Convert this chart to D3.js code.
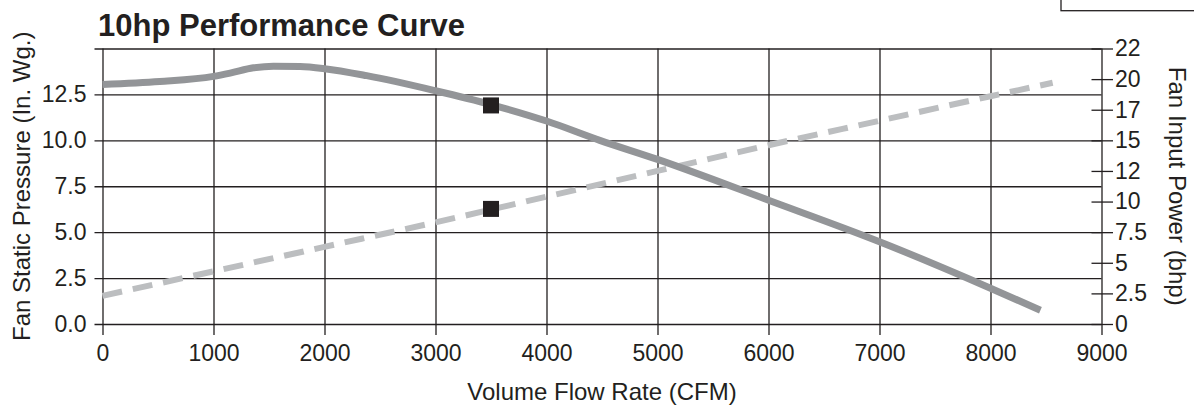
<!DOCTYPE html>
<html>
<head>
<meta charset="utf-8">
<script src="https://cdn.jsdelivr.net/npm/d3@7"></script>
<style>
  html, body { margin: 0; padding: 0; background: #fff; }
  svg { display: block; font-family: "Liberation Sans", Arial, sans-serif; }
  .tick line { stroke: #231f20; stroke-width: 1.3; }
  .tick text { fill: #231f20; font-size: 23px; }
</style>
</head>
<body>
<div id="chart"></div>
<script>
// Fan static pressure curve (CFM -> in. Wg.)
const pressureFlow  = [0, 516, 1000, 1150, 1360, 1540, 1780, 2000, 2380, 3000, 3500, 4000, 4480, 5000, 6000, 7000, 8000, 8450];
const pressureValue = [13.04, 13.2, 13.48, 13.66, 13.95, 14.04, 14.02, 13.9, 13.52, 12.7, 11.95, 11.05, 10.0, 8.96, 6.74, 4.48, 1.95, 0.75];

// Fan input power line (CFM -> bhp)
const powerFlow  = [0, 1000, 2000, 3000, 4000, 5000, 6000, 7000, 8000, 8560];
const powerValue = [2.3, 4.3, 6.3, 8.3, 10.4, 12.5, 14.6, 16.6, 18.6, 19.7];

// operating point markers
const pointFlow = 3500;
const pointPressure = 11.9;
const pointPower = 9.4;

// ticks
const xTicks = [0, 1000, 2000, 3000, 4000, 5000, 6000, 7000, 8000, 9000];
const leftTicks = [0, 2.5, 5, 7.5, 10, 12.5, 15];
const rightTicks = [0, 2.5, 5, 7.5, 10, 12.5, 15, 17.5, 20, 22.5];
const rightTickLabels = ["0", "2.5", "5", "7.5", "10", "12", "15", "17", "20", "22"];

const width = 1194, height = 407;
const plotLeft = 102.5, plotRight = 1101.5, plotTop = 48.5, plotBottom = 324;
const ink = "#231f20";

const svg = d3.select("#chart").append("svg")
    .attr("width", width)
    .attr("height", height);

const x = d3.scaleLinear().domain([0, 9000]).range([plotLeft, plotRight]);
const yL = d3.scaleLinear().domain([0, 15]).range([plotBottom, plotTop]);
const yR = d3.scaleLinear().domain([0, 22.5]).range([plotBottom, plotTop]);

// partial legend box cut off at the top right
svg.append("rect")
    .attr("x", 1061).attr("y", -10)
    .attr("width", 200).attr("height", 20.7)
    .attr("fill", "none")
    .attr("stroke", ink)
    .attr("stroke-width", 1.3);

// left axis + horizontal grid
svg.append("g")
    .attr("transform", `translate(${plotLeft - 8},0)`)
    .call(d3.axisLeft(yL)
        .tickValues(leftTicks)
        .tickSize(-(plotRight - plotLeft + 8))
        .tickPadding(8)
        .tickFormat(d => d === 15 ? "" : d3.format(".1f")(d)))
    .call(g => g.select(".domain").remove());

// bottom axis + vertical grid
svg.append("g")
    .attr("transform", `translate(0,${plotBottom + 11})`)
    .call(d3.axisBottom(x)
        .tickValues(xTicks)
        .tickSize(-(plotBottom + 11 - plotTop))
        .tickPadding(10)
        .tickFormat(d3.format("d")))
    .call(g => g.select(".domain").remove());

// right axis (power)
svg.append("g")
    .attr("transform", `translate(${plotRight - 10},0)`)
    .call(d3.axisRight(yR)
        .tickValues(rightTicks)
        .tickSize(21.5)
        .tickPadding(2)
        .tickFormat((d, i) => rightTickLabels[i]))
    .call(g => g.select(".domain").remove());

// power line (dashed)
const powerLine = d3.line()
    .x((d, i) => x(powerFlow[i]))
    .y(d => yR(d))
    .curve(d3.curveMonotoneX);

svg.append("path")
    .datum(powerValue)
    .attr("d", powerLine)
    .attr("fill", "none")
    .attr("stroke", "#bcbec0")
    .attr("stroke-width", 6)
    .attr("stroke-dasharray", "20,11");

// pressure curve (solid)
const pressureLine = d3.line()
    .x((d, i) => x(pressureFlow[i]))
    .y(d => yL(d))
    .curve(d3.curveMonotoneX);

svg.append("path")
    .datum(pressureValue)
    .attr("d", pressureLine)
    .attr("fill", "none")
    .attr("stroke", "#939598")
    .attr("stroke-width", 7);

// markers
const ms = 16;
svg.append("rect")
    .attr("x", x(pointFlow) - ms / 2).attr("y", yL(pointPressure) - ms / 2)
    .attr("width", ms).attr("height", ms)
    .attr("fill", ink);
svg.append("rect")
    .attr("x", x(pointFlow) - ms / 2).attr("y", yR(pointPower) - ms / 2)
    .attr("width", ms).attr("height", ms)
    .attr("fill", ink);

// title
svg.append("text")
    .attr("x", 98).attr("y", 36)
    .attr("fill", ink)
    .style("font-size", "31px")
    .style("font-weight", "bold")
    .text("10hp Performance Curve");

// axis titles
svg.append("text")
    .attr("x", (plotLeft + plotRight) / 2).attr("y", 400)
    .attr("text-anchor", "middle")
    .attr("fill", ink)
    .style("font-size", "24px")
    .text("Volume Flow Rate (CFM)");

svg.append("text")
    .attr("transform", `translate(30,${(plotTop + plotBottom) / 2}) rotate(-90)`)
    .attr("text-anchor", "middle")
    .attr("fill", ink)
    .style("font-size", "24px")
    .text("Fan Static Pressure (In. Wg.)");

svg.append("text")
    .attr("transform", `translate(1169,${(plotTop + plotBottom) / 2}) rotate(90)`)
    .attr("text-anchor", "middle")
    .attr("fill", ink)
    .style("font-size", "24px")
    .text("Fan Input Power (bhp)");
</script>
</body>
</html>
